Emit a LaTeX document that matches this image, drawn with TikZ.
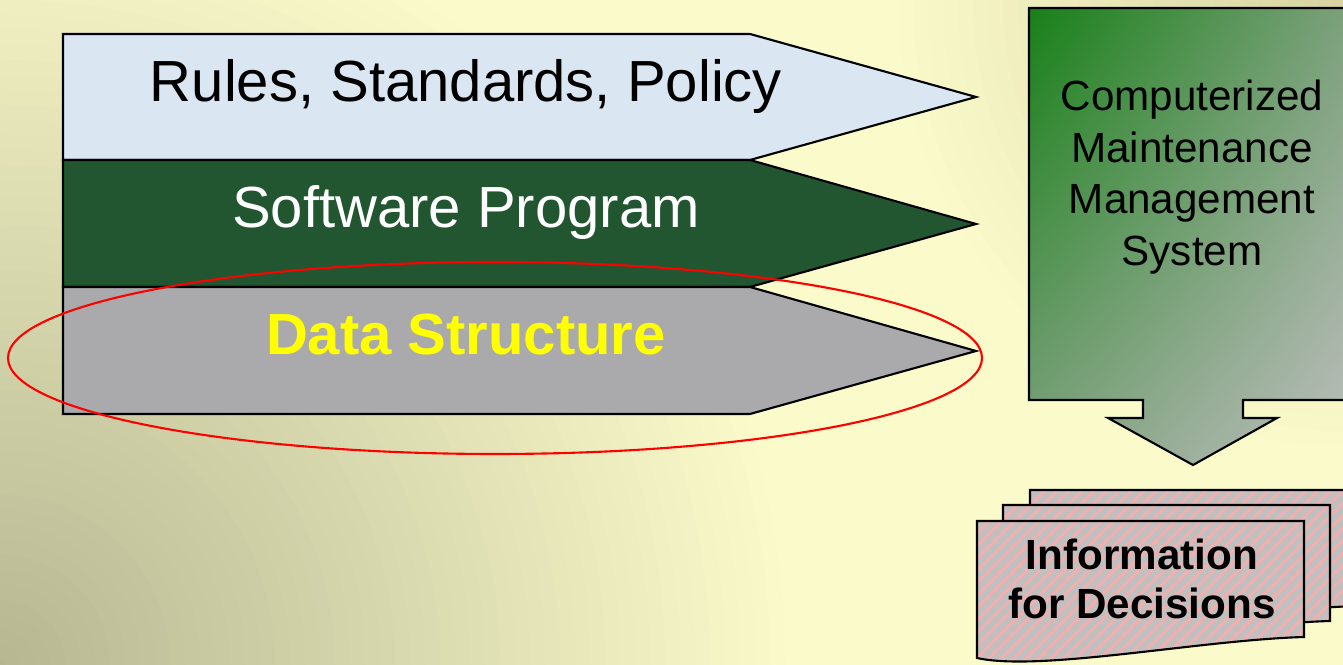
\documentclass[tikz,border=0pt]{standalone}
\usepackage{fontspec}
\setmainfont{Liberation Sans}
\usetikzlibrary{patterns.meta,shadings}

\definecolor{bgpale}{RGB}{250,250,202}
\definecolor{bgkhaki}{RGB}{182,182,146}
\definecolor{bgtan}{RGB}{214,210,162}
\definecolor{policyblue}{RGB}{219,230,243}
\definecolor{softgreen}{RGB}{33,86,48}
\definecolor{granite}{RGB}{170,170,172}
\definecolor{datayellow}{RGB}{255,255,0}
\definecolor{cmmsgreen}{RGB}{24,128,24}
\definecolor{cmmsmid}{RGB}{128,162,128}
\definecolor{cmmsgray}{RGB}{192,192,192}
\definecolor{sheetgray}{RGB}{192,192,192}
\definecolor{sheetpink}{RGB}{240,176,176}

\begin{document}
\begin{tikzpicture}
 [x=0.01cm, y=-0.01cm,
  band/.style={draw=black, line width=0.6pt},
  band text/.style={anchor=base, inner sep=0pt, font=\fontsize{16.5}{20}\selectfont},
  sheet/.style={fill=sheetgray,
    postaction={pattern={Lines[angle=45,distance=2.5pt,line width=0.9pt]}, pattern color=sheetpink},
    postaction={draw=black, line width=0.6pt}}]

\useasboundingbox (0,0) rectangle (1343,665);
\clip (0,0) rectangle (1343,665);

% background
\fill[bgpale] (0,0) rectangle (1343,665);
\foreach \r in {800,785,...,5} {
  \pgfmathsetmacro\mix{100*(1-\r/800)}
  \fill[bgkhaki!\mix!bgpale] (0,665) circle (\r);
}
\foreach \r in {460,445,...,5} {
  \pgfmathsetmacro\mix{100*(1-\r/460)}
  \fill[bgtan!\mix!bgpale] (1343,0) circle (\r);
}

% the three layers
\draw[band, fill=policyblue] (63,34) -- (750,34) -- (976,97) -- (750,160) -- (63,160) -- cycle;
\draw[band, fill=softgreen] (63,160) -- (750,160) -- (976,224) -- (750,287) -- (63,287) -- cycle;
\draw[band, fill=granite] (63,287) -- (750,287) -- (976,351) -- (750,414) -- (63,414) -- cycle;

\node[band text] (rules) at (466,102) {Rules, Standards, Policy};
\node[band text, text=white] (software) at (466,228) {Software Program};
\node[band text, text=datayellow, font=\fontsize{16.5}{20}\selectfont\bfseries] (data) at (466,355) {Data Structure};

\draw[red, line width=0.6pt] (495,358) ellipse (487 and 96);

% CMMS box with its down arrow
\shadedraw[upper left=cmmsgreen, upper right=cmmsmid, lower left=cmmsmid, lower right=cmmsgray,
  draw=black, line width=0.6pt]
  (1029,8) -- (1360,8) -- (1360,400) -- (1243,400) -- (1243,418) -- (1277,418)
  -- (1193,465) -- (1108,418) -- (1143,418) -- (1143,400) -- (1029,400) -- cycle;
\node[align=center, inner sep=0pt, font=\fontsize{12}{14.7}\selectfont] (cmms) at (1192,177)
  {Computerized\\Maintenance\\Management\\System};

% stack of documents
\foreach \dx/\dy in {53/-31, 26/-16, 0/0}
  \path[sheet, shift={(\dx,\dy)}] (977,521) -- (1304,521) -- (1304,637)
    .. controls (1200,640) and (1040,672) .. (977,658) -- cycle;
\node[align=center, inner sep=0pt, font=\fontsize{12}{13.7}\selectfont\bfseries] (info) at (1142,579)
  {Information\\for Decisions};

\end{tikzpicture}
\end{document}
